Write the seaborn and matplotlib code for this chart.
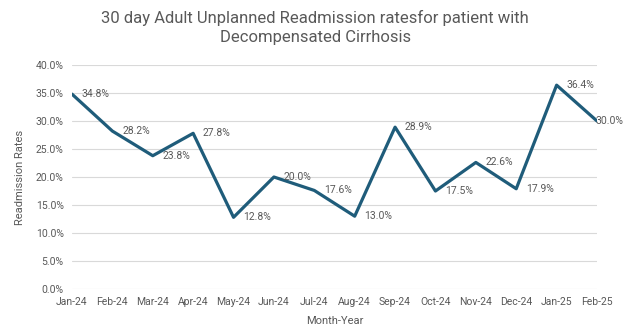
import matplotlib
matplotlib.use("Agg")
import matplotlib.pyplot as plt
import seaborn as sns
import pandas as pd
from matplotlib.ticker import FuncFormatter

months = ["Jan-24", "Feb-24", "Mar-24", "Apr-24", "May-24", "Jun-24", "Jul-24",
          "Aug-24", "Sep-24", "Oct-24", "Nov-24", "Dec-24", "Jan-25", "Feb-25"]
rates = [34.8, 28.2, 23.8, 27.8, 12.8, 20.0, 17.6, 13.0, 28.9, 17.5, 22.6, 17.9, 36.4, 30.0]
y_ticks = [0, 5, 10, 15, 20, 25, 30, 35, 40]

sns.set_theme(style="white")
plt.rcParams['font.family'] = ['Roboto', 'DejaVu Sans']

df = pd.DataFrame({"Month": months, "Rate": rates})
df["pos"] = range(len(months))

fig = plt.figure(figsize=(6.24, 3.32), dpi=100)
ax = fig.add_axes([72/624, 1 - 289/332, (597 - 72)/624, (289 - 65)/332])

sns.lineplot(data=df, x="pos", y="Rate", ax=ax, color="#1F5C7A", linewidth=2.3)

gray = "#595959"
n = len(months)
for i, (x, y) in enumerate(zip(df["pos"], df["Rate"])):
    dx = 7 if i < n - 1 else -1
    ax.annotate(f"{y:.1f}%", (x, y), xytext=(dx, 0), textcoords="offset points",
                ha="left", va="center", fontsize=7.5, color=gray, annotation_clip=False)

ax.set_xlim(0, n - 1)
ax.set_ylim(0, 40)
ax.set_yticks(y_ticks)
ax.yaxis.set_major_formatter(FuncFormatter(lambda v, p: f"{v:.1f}%"))
ax.set_xticks(df["pos"])
ax.set_xticklabels(months)
ax.grid(axis="y", color="#D9D9D9", linewidth=0.8)
ax.set_axisbelow(True)
for s in ax.spines.values():
    s.set_visible(False)
ax.tick_params(axis="both", length=0, labelsize=7.5, labelcolor=gray, pad=6)
ax.set_xlabel("Month-Year", fontsize=8, color=gray, labelpad=6)
ax.set_ylabel("Readmission Rates", fontsize=8, color=gray, labelpad=8)

fig.suptitle("30 day Adult Unplanned Readmission ratesfor patient with\nDecompensated Cirrhosis",
             x=0.505, y=0.97, fontsize=12, color=gray, linespacing=1.35)

fig.savefig("out.png", dpi=100)
